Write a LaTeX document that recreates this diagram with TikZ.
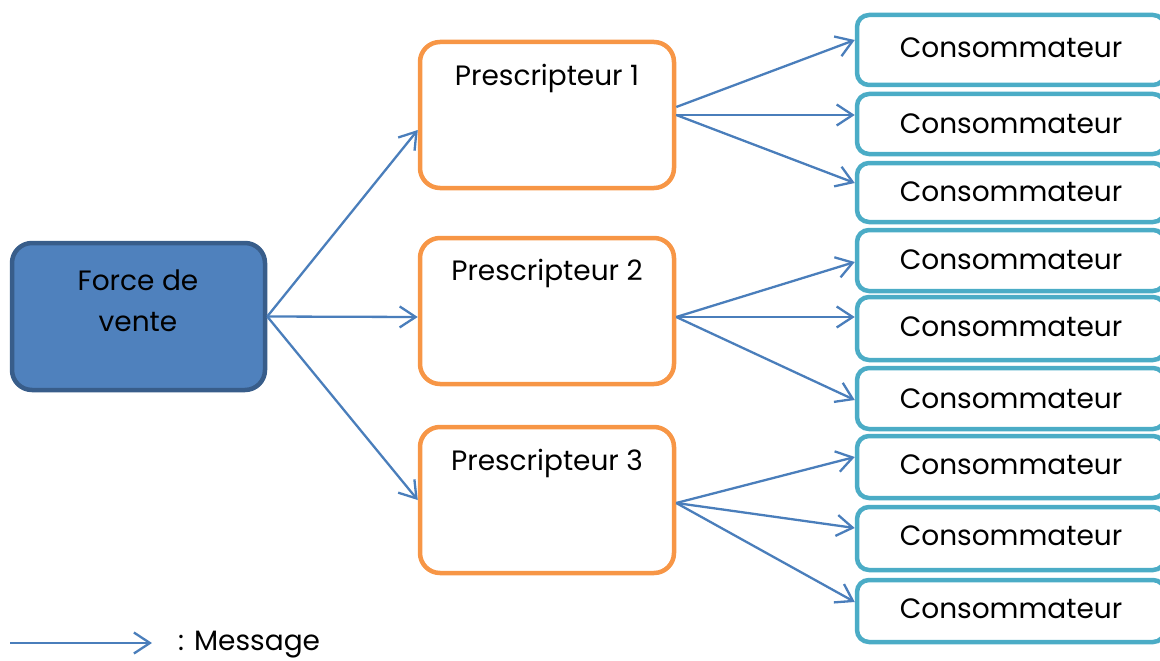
\documentclass[tikz,border=0pt]{standalone}
\usepackage{fontspec}
\setmainfont{Poppins}
\usetikzlibrary{arrows.meta}
\definecolor{fvfill}{HTML}{4F81BD}
\definecolor{fvdraw}{HTML}{385D8A}
\definecolor{porange}{HTML}{F79646}
\definecolor{cteal}{HTML}{4BACC6}
\definecolor{arr}{HTML}{4A7EBB}
\tikzset{
  fvbox/.style={draw=fvdraw, fill=fvfill, line width=4.5pt, rounded corners=20pt, minimum width=253pt, minimum height=147pt, inner sep=0pt},
  pbox/.style={draw=porange, line width=4.5pt, rounded corners=20pt, minimum width=254pt, minimum height=146pt, inner sep=0pt},
  cbox/.style={draw=cteal, line width=4.5pt, rounded corners=12pt, minimum width=308pt, inner sep=0pt},
  lbl/.style={font=\fontsize{28}{41}\selectfont, inner sep=0pt, align=center},
  msg/.style={draw=arr, line width=2.3pt, -{Straight Barb[length=16pt,width=21pt,line width=2.3pt]}}
}
\begin{document}
\begin{tikzpicture}[x=1pt,y=-1pt]
\useasboundingbox (0,0) rectangle (1160,661);
\begin{scope}
\clip (0,0) rectangle (1160,661);
% consumers
\node[cbox, minimum height=70pt] (c1) at (1011,50) {};
\node[cbox, minimum height=60pt] (c2) at (1011,124) {};
\node[cbox, minimum height=59pt] (c3) at (1011,192.5) {};
\node[cbox, minimum height=61pt] (c4) at (1011,260.5) {};
\node[cbox, minimum height=63pt] (c5) at (1011,328.5) {};
\node[cbox, minimum height=61pt] (c6) at (1011,398.5) {};
\node[cbox, minimum height=62pt] (c7) at (1011,467) {};
\node[cbox, minimum height=63pt] (c8) at (1011,538.5) {};
\node[cbox, minimum height=62pt] (c9) at (1011,611) {};
\end{scope}
\node[lbl] (t1) at (1011,48) {Consommateur};
\node[lbl] (t2) at (1011,124) {Consommateur};
\node[lbl] (t3) at (1011,192) {Consommateur};
\node[lbl] (t4) at (1011,260) {Consommateur};
\node[lbl] (t5) at (1011,327) {Consommateur};
\node[lbl] (t6) at (1011,399) {Consommateur};
\node[lbl] (t7) at (1011,465) {Consommateur};
\node[lbl] (t8) at (1011,536) {Consommateur};
\node[lbl] (t9) at (1011,609) {Consommateur};
% force de vente
\node[fvbox] (f) at (138.5,316.5) {};
\node[lbl] (ft) at (138,301) {Force de\\vente};
% prescripteurs
\node[pbox] (p1) at (547,115) {};
\node[pbox] (p2) at (547,311) {};
\node[pbox] (p3) at (547,500) {};
\node[lbl] (pt1) at (547,78) {Prescripteur 1};
\node[lbl] (pt2) at (547,273) {Prescripteur 2};
\node[lbl] (pt3) at (547,463) {Prescripteur 3};
% arrows
\draw[msg] (f.east) -- ([yshift=-15pt]p1.west);
\draw[msg] (f.east) -- ([yshift=-6pt]p2.west);
\draw[msg] (f.east) -- (p3.west);
\draw[msg] ([yshift=8pt]p1.east) -- ([yshift=10pt]c1.west);
\draw[msg] (p1.east) -- ([yshift=9pt]c2.west);
\draw[msg] (p1.east) -- ([yshift=9.5pt]c3.west);
\draw[msg] ([yshift=-6pt]p2.east) -- ([yshift=-1.5pt]c4.west);
\draw[msg] ([yshift=-6pt]p2.east) -- ([yshift=11.5pt]c5.west);
\draw[msg] ([yshift=-6pt]p2.east) -- ([yshift=-1.5pt]c6.west);
\draw[msg] ([yshift=-3pt]p3.east) -- ([yshift=10pt]c7.west);
\draw[msg] ([yshift=-3pt]p3.east) -- ([yshift=10.5pt]c8.west);
\draw[msg] ([yshift=-3pt]p3.east) -- ([yshift=9pt]c9.west);
% legend
\coordinate (la) at (10,643);
\coordinate (lb) at (152,643);
\draw[msg] (la) -- (lb);
\node[lbl, anchor=west] (lt) at (178,645) {: Message};
\end{tikzpicture}
\end{document}
